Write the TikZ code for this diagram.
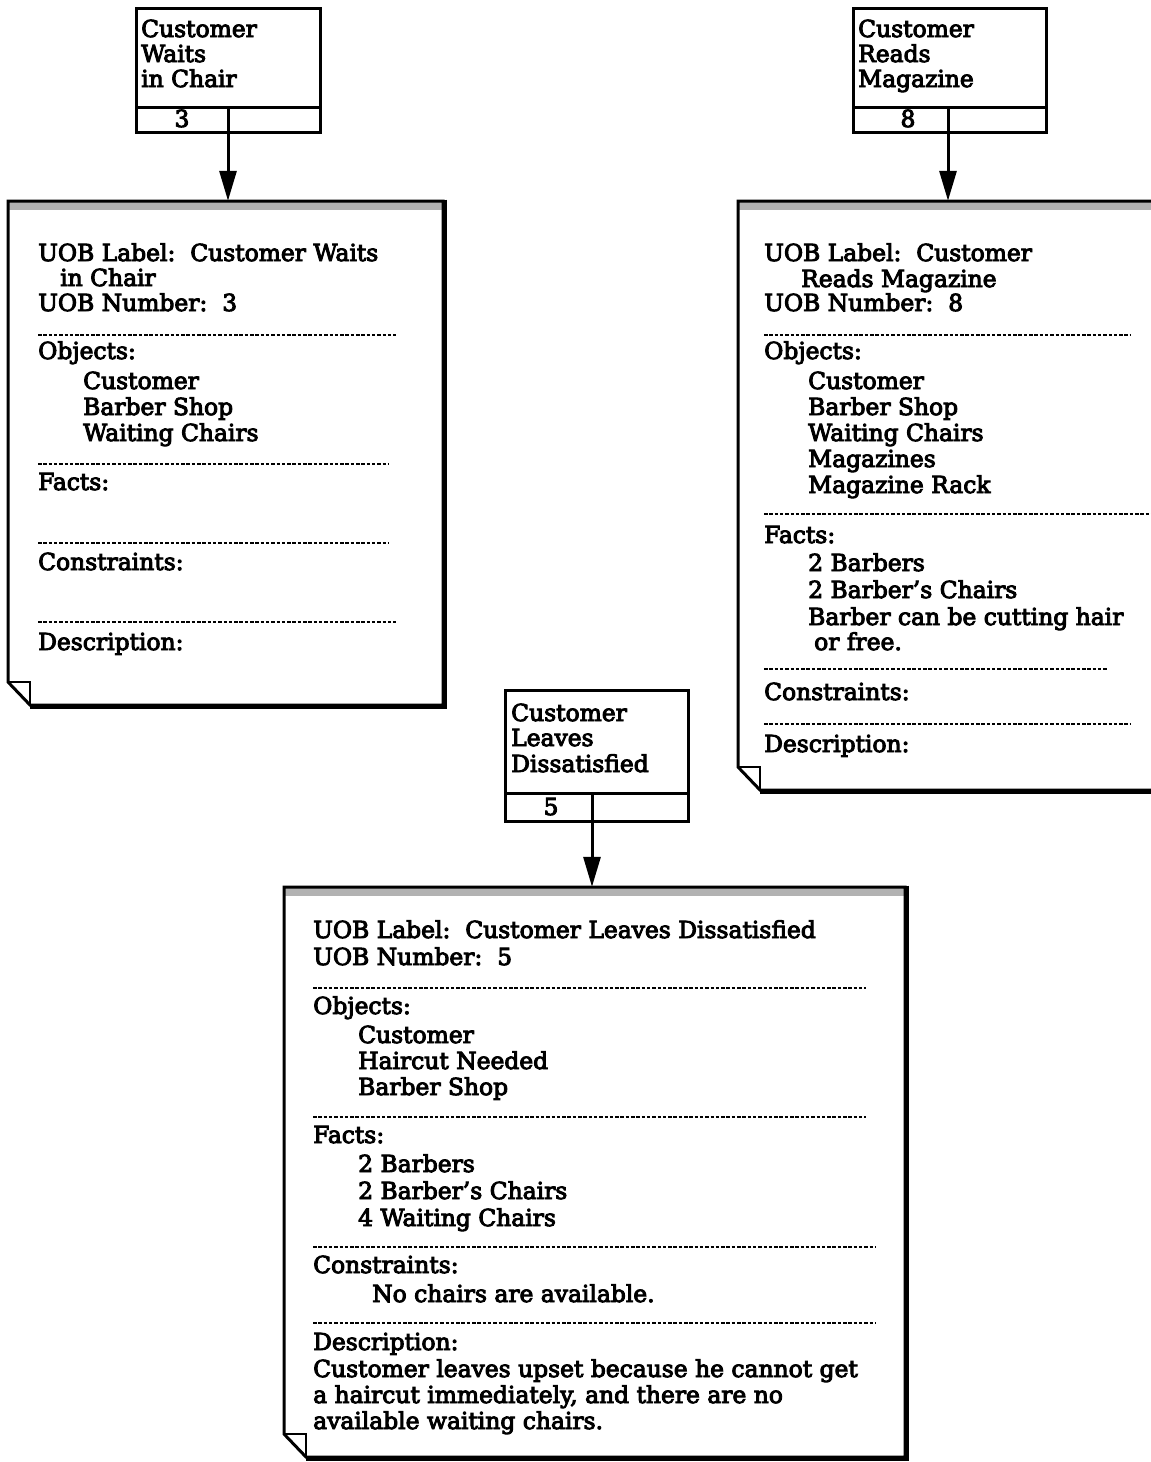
\documentclass[tikz,border=0pt]{standalone}
\usepackage{fontspec}
\setmainfont{DejaVu Serif}
\newfontfamily\uobface{DejaVu Serif}[RawFeature={embolden=4}]
\usetikzlibrary{arrows.meta}
\newcommand\uobfont{\uobface\fontsize{23.4}{26}\selectfont}
\tikzset{
  txt/.style={anchor=base west, inner sep=0pt, font=\uobfont},
  num/.style={anchor=base, inner sep=0pt, font=\uobfont},
  frame/.style={line width=3pt, line join=miter},
  sepline/.style={line width=1.4pt, dash pattern=on 3.5pt off 1.8pt},
  link/.style={line width=3pt, -{Triangle[length=30pt,width=17pt]}},
  strip/.style={fill=gray!60},
}
% card: name, x1, y1, x2, y2
\newcommand\uobcard[5]{%
  \node[inner sep=0pt, minimum width={#4-#2}, minimum height={#5-#3}] (#1) at ({(#2+#4)/2},{(#3+#5)/2}) {};
  \fill[white] (#2,#3) -- (#4,#3) -- (#4,#5) -- (#2+22,#5) -- (#2,#5-23) -- cycle;
  \fill[strip] (#2,#3) rectangle (#4,#3+9);
  \draw[frame] (#2,#3) -- (#4,#3) -- (#4,#5) -- (#2+22,#5) -- (#2,#5-23) -- cycle;
  \draw[line width=2.6pt] (#2,#5-23) -- (#2+22,#5-23) -- (#2+22,#5);
  \draw[line width=5.5pt] (#4+1.5,#3-1.5) -- (#4+1.5,#5+1.5) -- (#2+22,#5+1.5);
}
% uob box: name, x1, y1, x2, y2, ydiv, xv
\newcommand\uobbox[7]{%
  \node[frame, draw, fill=white, inner sep=0pt, minimum width={#4-#2}, minimum height={#5-#3}] (#1) at ({(#2+#4)/2},{(#3+#5)/2}) {};
  \draw[frame] (#2,#6) -- (#4,#6);
  \draw[frame] (#7,#6) -- (#7,#5);
  \coordinate (#1v) at (#7,#5);
}
\begin{document}
\begin{tikzpicture}[x=1pt,y=-1pt]
\clip (0,0) rectangle (1151,1462);
\fill[white] (0,0) rectangle (1151,1462);

% ---------- top-left ----------
\uobbox{b1}{136}{8}{320}{132}{107}{228}
\node[txt] (b1l1) at (141,37) {Customer};
\node[txt] (b1l2) at (141,62) {Waits};
\node[txt] (b1l3) at (141,87) {in Chair};
\node[num] (b1n) at (182,127) {3};

\uobcard{k1}{8}{201}{443}{705}
\draw[link] (b1v) -- (b1v |- k1.north);
\node[txt] (k1a) at (38,261) {UOB Label:\ \ Customer Waits};
\node[txt] (k1b) at (60,286) {in Chair};
\node[txt] (k1c) at (38,311) {UOB Number:\ \ 3};
\draw[sepline] (38,335) -- (396,335);
\node[txt] (k1d) at (38,359) {Objects:};
\node[txt] (k1e) at (83,389) {Customer};
\node[txt] (k1f) at (83,415) {Barber Shop};
\node[txt] (k1g) at (83,441) {Waiting Chairs};
\draw[sepline] (38,464) -- (388,464);
\node[txt] (k1h) at (38,490) {Facts:};
\draw[sepline] (38,543) -- (388,543);
\node[txt] (k1i) at (38,570) {Constraints:};
\draw[sepline] (38,622) -- (396,622);
\node[txt] (k1j) at (38,650) {Description:};

% ---------- top-right ----------
\uobbox{b2}{853}{8}{1046}{132}{107}{948}
\node[txt] (b2l1) at (858,37) {Customer};
\node[txt] (b2l2) at (858,62) {Reads};
\node[txt] (b2l3) at (858,87) {Magazine};
\node[num] (b2n) at (908,127) {8};

\uobcard{k2}{738}{201}{1160}{790}
\draw[link] (b2v) -- (b2v |- k2.north);
\node[txt] (k2a) at (764,261) {UOB Label:\ \ Customer};
\node[txt] (k2b) at (801,287) {Reads Magazine};
\node[txt] (k2c) at (764,311) {UOB Number:\ \ 8};
\draw[sepline] (764,335) -- (1131,335);
\node[txt] (k2d) at (764,359) {Objects:};
\node[txt] (k2e) at (808,389) {Customer};
\node[txt] (k2f) at (808,415) {Barber Shop};
\node[txt] (k2g) at (808,441) {Waiting Chairs};
\node[txt] (k2h) at (808,467) {Magazines};
\node[txt] (k2i) at (808,493) {Magazine Rack};
\draw[sepline] (764,514) -- (1151,514);
\node[txt] (k2j) at (764,543) {Facts:};
\node[txt] (k2k) at (808,571) {2 Barbers};
\node[txt] (k2l) at (808,598) {2 Barber’s Chairs};
\node[txt] (k2m) at (808,625) {Barber can be cutting hair};
\node[txt] (k2n) at (814,650) {or free.};
\draw[sepline] (764,669) -- (1108,669);
\node[txt] (k2o) at (764,700) {Constraints:};
\draw[sepline] (764,724) -- (1131,724);
\node[txt] (k2p) at (764,752) {Description:};

% ---------- bottom ----------
\uobbox{b3}{505}{690}{688}{821}{793}{592}
\node[txt] (b3l1) at (511,721) {Customer};
\node[txt] (b3l2) at (511,746) {Leaves};
\node[txt] (b3l3) at (511,772) {Dissatisfied};
\node[num] (b3n) at (551,815) {5};

\uobcard{k3}{284}{887}{905}{1457}
\draw[link] (b3v) -- (b3v |- k3.north);
\node[txt] (k3a) at (313,938) {UOB Label:\ \ Customer Leaves Dissatisfied};
\node[txt] (k3b) at (313,965) {UOB Number:\ \ 5};
\draw[sepline] (313,988) -- (866,988);
\node[txt] (k3c) at (313,1014) {Objects:};
\node[txt] (k3d) at (358,1043) {Customer};
\node[txt] (k3e) at (358,1069) {Haircut Needed};
\node[txt] (k3f) at (358,1095) {Barber Shop};
\draw[sepline] (313,1117) -- (866,1117);
\node[txt] (k3g) at (313,1143) {Facts:};
\node[txt] (k3h) at (358,1172) {2 Barbers};
\node[txt] (k3i) at (358,1199) {2 Barber’s Chairs};
\node[txt] (k3j) at (358,1226) {4 Waiting Chairs};
\draw[sepline] (313,1247) -- (875,1247);
\node[txt] (k3k) at (313,1273) {Constraints:};
\node[txt] (k3l) at (372,1302) {No chairs are available.};
\draw[sepline] (313,1323) -- (875,1323);
\node[txt] (k3m) at (313,1350) {Description:};
\node[txt] (k3n) at (313,1377) {Customer leaves upset because he cannot get};
\node[txt] (k3o) at (313,1403) {a haircut immediately, and there are no};
\node[txt] (k3p) at (313,1429) {available waiting chairs.};
\end{tikzpicture}
\end{document}
